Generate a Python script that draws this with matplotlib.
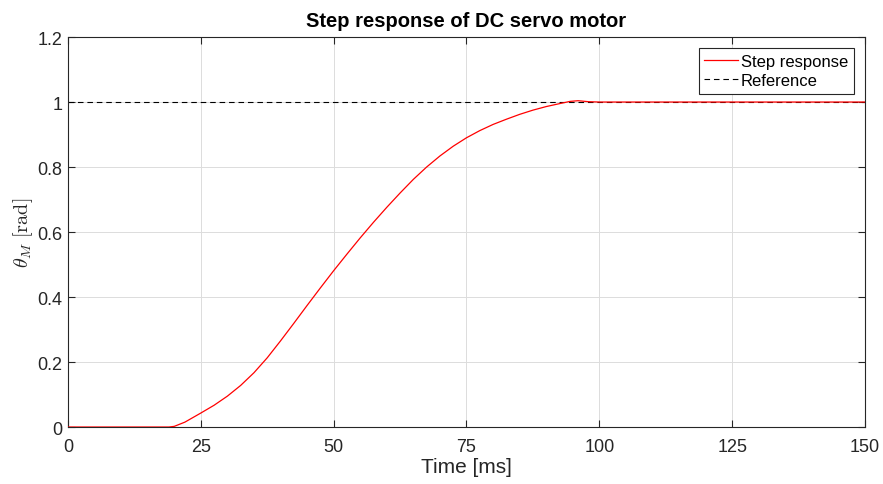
import numpy as np
import matplotlib.pyplot as plt

plt.rcParams['font.family'] = ['Liberation Sans', 'DejaVu Sans']
plt.rcParams['mathtext.fontset'] = 'cm'

# motor shaft angle at sample times
t_ms = [0, 10, 19, 20, 22, 25, 27.5, 30, 32.5, 35, 37.5, 40, 42.5, 45, 47.5,
        50, 52.5, 55, 57.5, 60, 62.5, 65, 67.5, 70, 72.5, 75, 77.5, 80, 82.5,
        85, 87.5, 90, 92.5, 94.5, 96, 98, 100, 125, 150]
theta = [0, 0, 0, 0.002, 0.015, 0.043, 0.067, 0.095, 0.128, 0.167, 0.213,
         0.265, 0.319, 0.374, 0.428, 0.481, 0.532, 0.582, 0.63, 0.676, 0.72,
         0.762, 0.80, 0.834, 0.864, 0.89, 0.912, 0.931, 0.947, 0.962, 0.975,
         0.986, 0.995, 1.002, 1.004, 1.001, 1.0, 1.0, 1.0]
ref_t = [0, 150]
ref_val = [1, 1]

xticks = [0, 25, 50, 75, 100, 125, 150]
yticks = [0, 0.2, 0.4, 0.6, 0.8, 1, 1.2]
ytick_labels = ['0', '0.2', '0.4', '0.6', '0.8', '1', '1.2']

fig = plt.figure(figsize=(8.83, 4.85), dpi=100)
ax = fig.add_axes([0.077, 0.1175, 0.9026, 0.8041])

ax.plot(ref_t, ref_val, color='black', lw=0.8, dashes=(5, 3.5),
        label='Reference', zorder=2)
ax.plot(t_ms, theta, color='red', lw=0.9, label='Step response', zorder=3)

ax.set_xlim(0, 150)
ax.set_ylim(0, 1.2)
ax.set_xticks(xticks)
ax.set_yticks(yticks)
ax.set_yticklabels(ytick_labels)
ax.tick_params(direction='in', top=True, right=True, length=5, width=0.8,
               labelsize=13, colors='#262626')
ax.tick_params(axis='x', pad=8)
ax.tick_params(axis='y', pad=4)
for s in ax.spines.values():
    s.set_color('#262626')
    s.set_linewidth(0.8)
ax.grid(True, color='#dcdcdc', lw=0.7)
ax.set_axisbelow(True)

ax.set_xlabel('Time [ms]', fontsize=15, color='#262626', labelpad=1)
ax.set_ylabel(r'$\theta_M\ [\mathrm{rad}]$', fontsize=14.5, color='#262626', labelpad=2)
ax.set_title('Step response of DC servo motor', fontsize=14.5, fontweight='bold', pad=8)

handles, labels = ax.get_legend_handles_labels()
leg = ax.legend(handles[::-1], labels[::-1], loc='upper right', fontsize=12,
                frameon=True, fancybox=False, framealpha=1, edgecolor='#262626',
                handlelength=2.0, handletextpad=0.2, borderpad=0.35,
                labelspacing=0.25, borderaxespad=0.65)
leg.get_frame().set_linewidth(0.8)

fig.savefig('out.png', dpi=100)
